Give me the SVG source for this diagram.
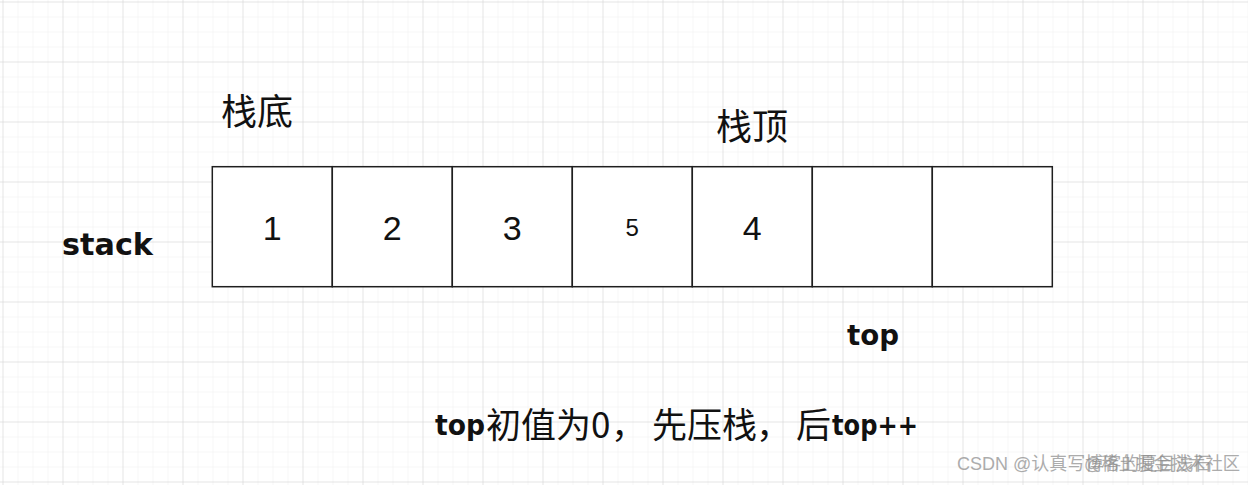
<svg xmlns="http://www.w3.org/2000/svg" width="1248" height="485" viewBox="0 0 1248 485">
  <style>
    .cell { fill: #ffffff; stroke: #1f1f1f; stroke-width: 1.5; }
    .num { font-family: "Liberation Sans", Arial, sans-serif; fill: #111111; text-anchor: middle; }
    .cjk { font-family: "Noto Sans CJK SC", "Noto Sans", sans-serif; fill: #111111; }
    .lat { font-family: "DejaVu Sans", "Liberation Sans", sans-serif; font-weight: bold; fill: #111111; }
    .wm { font-family: "Liberation Sans", "Noto Sans CJK SC", sans-serif; font-size: 18px; fill: #8a8a8a; opacity: 0.7; }
  </style>
  <defs>
    <pattern id="minor" x="2.5" y="1.5" width="15" height="15" patternUnits="userSpaceOnUse">
      <path d="M0 0 V15 M0 0 H15" stroke="#eeeeee" stroke-width="1" fill="none"/>
    </pattern>
    <pattern id="major" x="2.5" y="1.5" width="60" height="60" patternUnits="userSpaceOnUse">
      <path d="M0 0 V60 M0 0 H60" stroke="#d6d6d6" stroke-width="1" fill="none"/>
    </pattern>
  </defs>

  <g id="background">
    <rect x="0" y="0" width="1248" height="485" fill="#ffffff"/>
    <rect x="0" y="0" width="1248" height="485" fill="url(#minor)"/>
    <rect x="0" y="0" width="1248" height="485" fill="url(#major)"/>
  </g>

  <g id="connectors"></g>

  <g id="stack-array">
    <g id="cell-0">
      <rect class="cell" x="212.3" y="166.7" width="120" height="120"/>
      <text class="num" x="272.3" y="240" font-size="34">1</text>
    </g>
    <g id="cell-1">
      <rect class="cell" x="332.3" y="166.7" width="120" height="120"/>
      <text class="num" x="392.3" y="240" font-size="34">2</text>
    </g>
    <g id="cell-2">
      <rect class="cell" x="452.3" y="166.7" width="120" height="120"/>
      <text class="num" x="512.3" y="240" font-size="34">3</text>
    </g>
    <g id="cell-3">
      <rect class="cell" x="572.3" y="166.7" width="120" height="120"/>
      <text class="num" x="632.3" y="236" font-size="24">5</text>
    </g>
    <g id="cell-4">
      <rect class="cell" x="692.3" y="166.7" width="120" height="120"/>
      <text class="num" x="752.3" y="240" font-size="34">4</text>
    </g>
    <g id="cell-5">
      <rect class="cell" x="812.3" y="166.7" width="120" height="120"/>
    </g>
    <g id="cell-6">
      <rect class="cell" x="932.3" y="166.7" width="120" height="120"/>
    </g>
  </g>

  <g id="label-bottom">
    <text class="cjk" x="221" y="124.5" font-size="36">栈底</text>
  </g>
  <g id="label-top-of-stack">
    <text class="cjk" x="716" y="139.5" font-size="36">栈顶</text>
  </g>
  <g id="label-stack">
    <text class="lat" x="62" y="255" font-size="30" textLength="91" lengthAdjust="spacingAndGlyphs">stack</text>
  </g>
  <g id="label-top">
    <text class="lat" x="847" y="345" font-size="28" textLength="52" lengthAdjust="spacingAndGlyphs">top</text>
  </g>

  <g id="note">
    <text font-size="35">
      <tspan class="lat" x="435" y="435" font-size="28" textLength="50" lengthAdjust="spacingAndGlyphs">top</tspan>
      <tspan class="cjk" x="486" y="438">初值为</tspan>
      <tspan class="cjk" x="591" y="438">0</tspan>
      <tspan class="cjk" x="611" y="438">，</tspan>
      <tspan class="cjk" x="652" y="438">先压栈</tspan>
      <tspan class="cjk" x="756" y="438">，</tspan>
      <tspan class="cjk" x="796" y="438">后</tspan>
      <tspan class="lat" x="832" y="435" font-size="28" textLength="86" lengthAdjust="spacingAndGlyphs">top++</tspan>
    </text>
  </g>

  <g id="watermark">
    <text class="wm" x="957" y="470">CSDN @认真写博客的夏目浅石</text>
    <text class="wm" x="1084" y="470" textLength="156" lengthAdjust="spacingAndGlyphs">@稀土掘金技术社区</text>
  </g>
</svg>
